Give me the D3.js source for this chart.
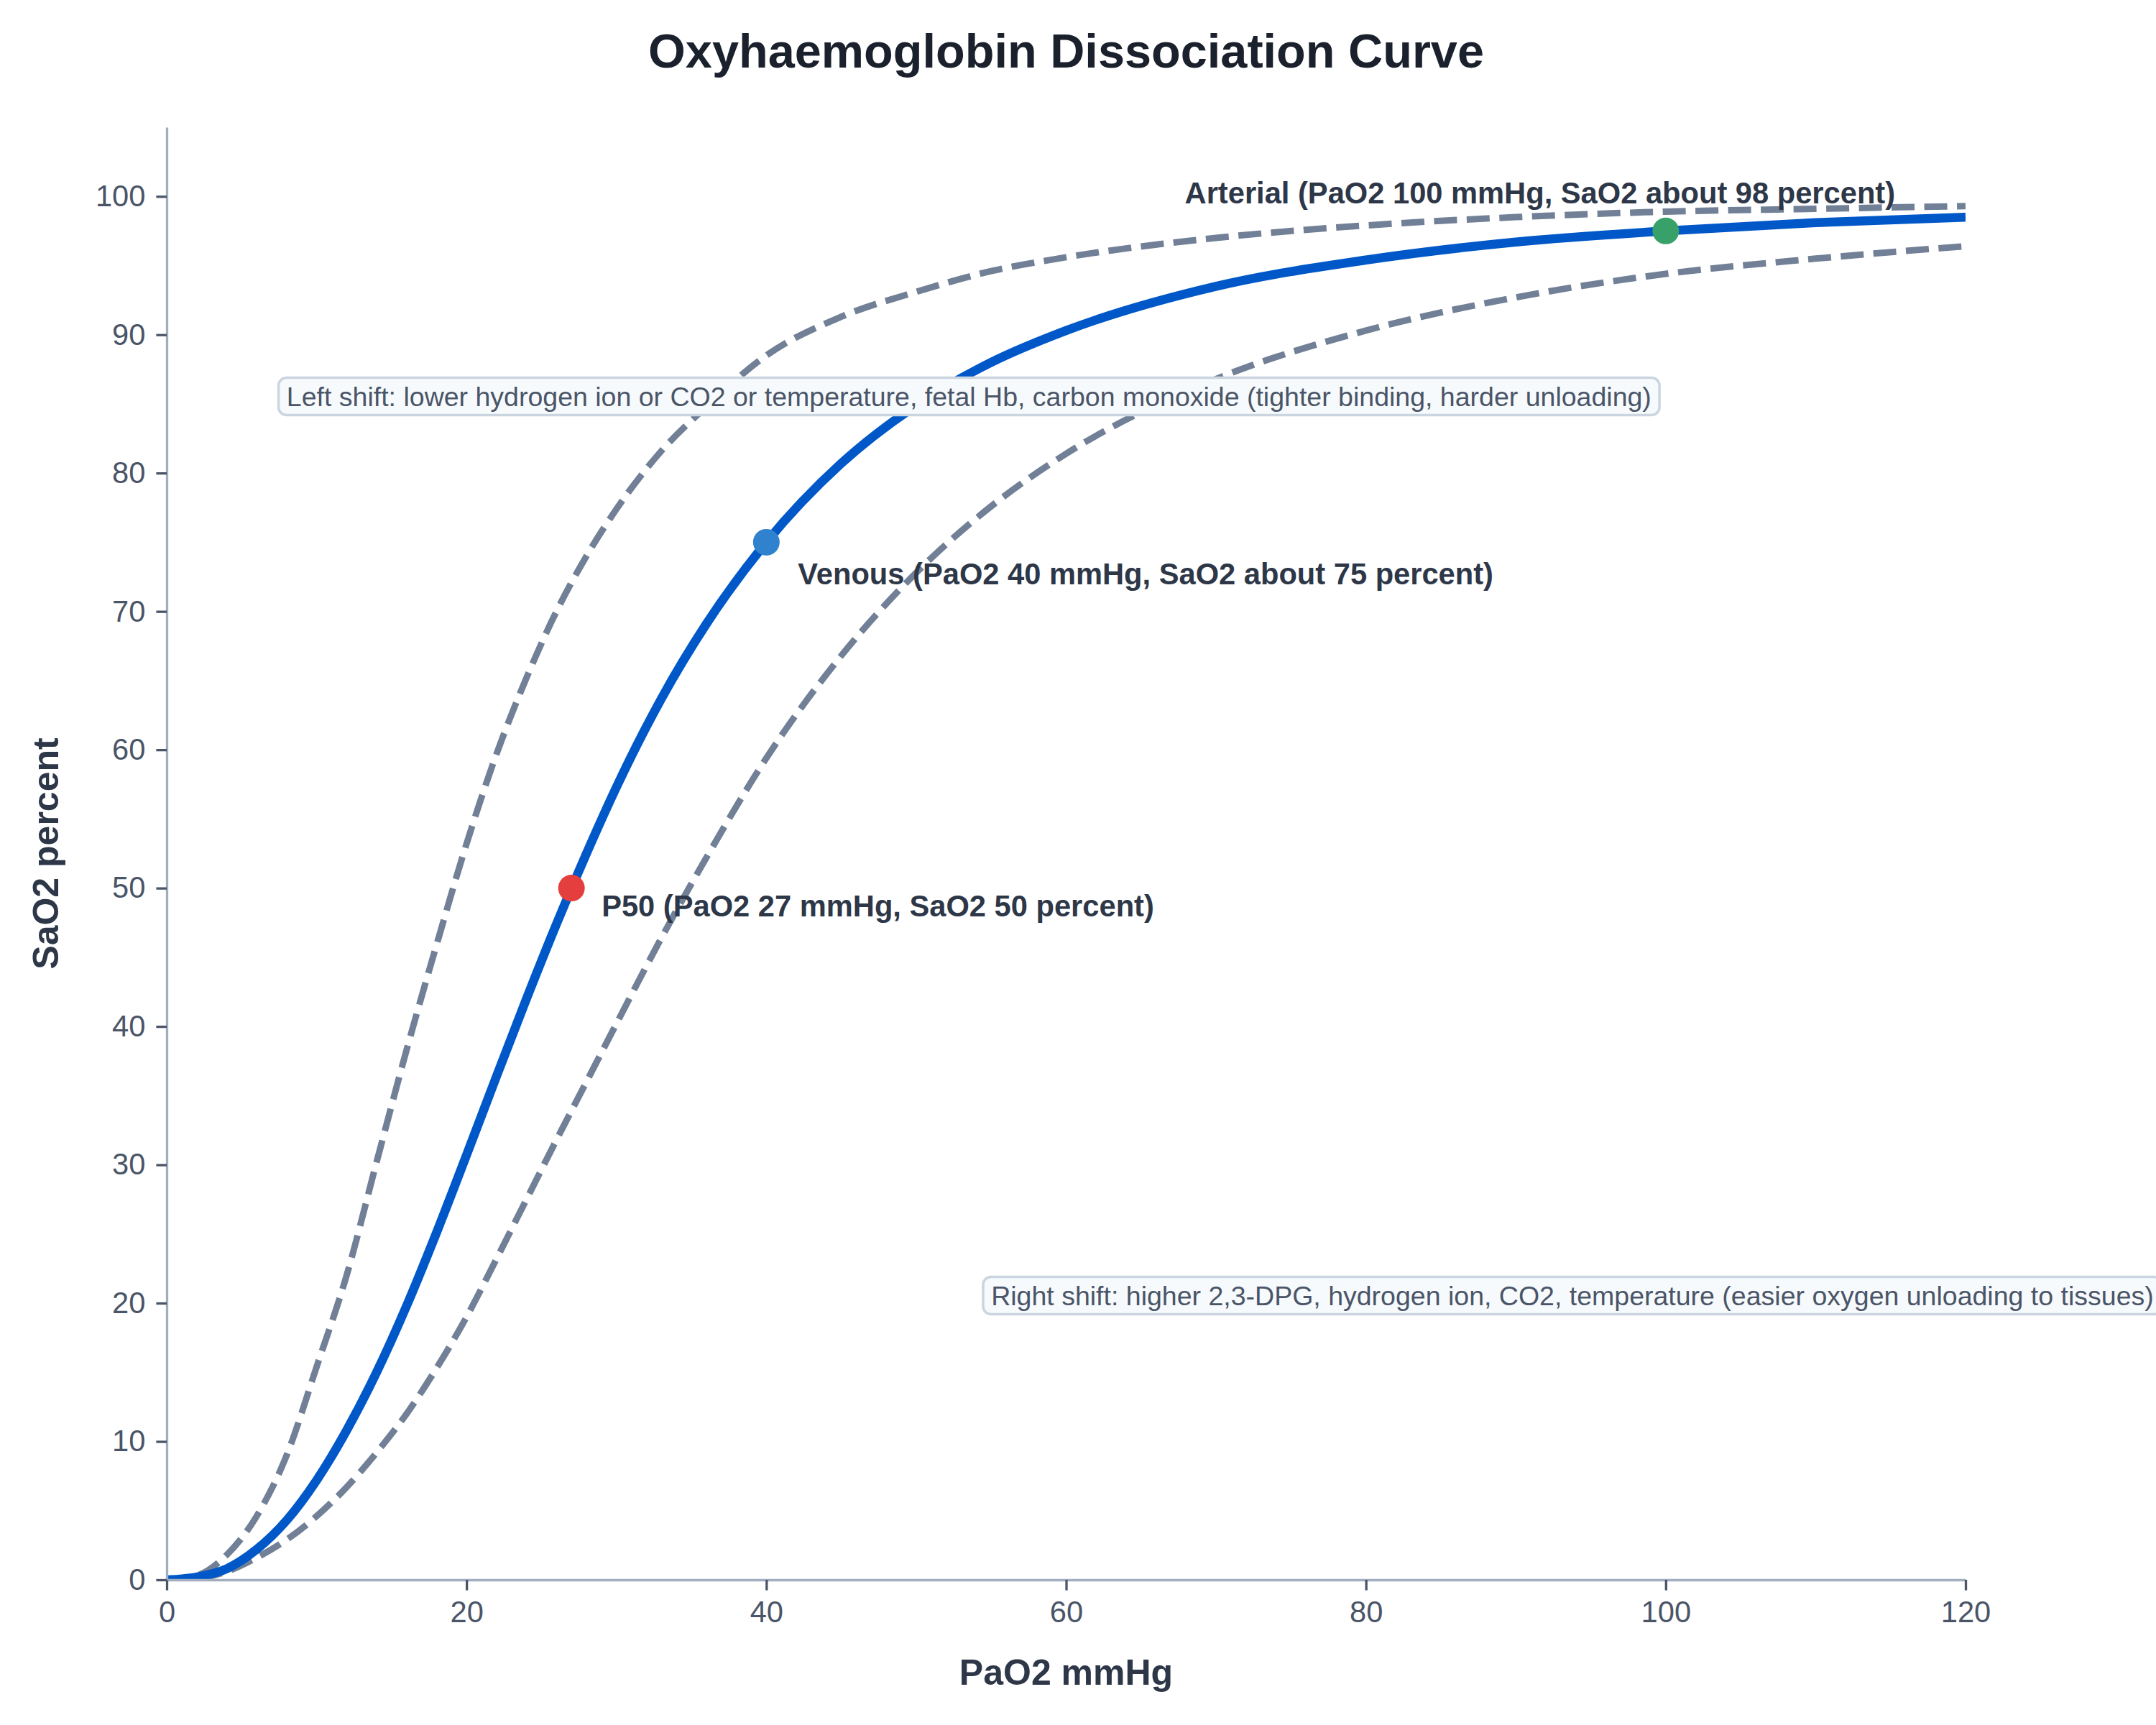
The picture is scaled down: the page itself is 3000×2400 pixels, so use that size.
<!DOCTYPE html>
<html>
<head>
<meta charset="utf-8">
<script src="https://cdn.jsdelivr.net/npm/d3@7"></script>
<style>
  body { margin: 0; background: #fff; }
  svg { display: block; font-family: 'Liberation Sans', Arial, Helvetica, sans-serif; }
</style>
</head>
<body>
<svg class="canvas" width="3000" height="2400"></svg>
<script>
'use strict'

// PaO2 sample points (mmHg)
const pao2 = [0, 2, 4, 6, 8, 10, 12, 14, 16, 18, 20, 22, 24, 26, 28, 30, 33, 36, 40, 45, 50, 55, 60, 70, 80, 90, 100, 110, 120]

// SaO2 percent for each curve
const normalSat = [0, 0.2, 0.8, 2.2, 4.3, 7.2, 10.8, 15.0, 19.8, 25.1, 30.7, 36.4, 42.0, 47.4, 52.5, 57.3, 63.7, 69.1, 75.0, 80.7, 84.9, 88.0, 90.3, 93.5, 95.4, 96.7, 97.5, 98.1, 98.5]
const leftShiftSat = [0, 0.3, 1.8, 4.6, 9.0, 15.4, 22.0, 30.2, 38.3, 45.9, 53.2, 59.7, 65.2, 70.0, 74.0, 77.4, 81.6, 84.8, 88.5, 91.3, 93.1, 94.6, 95.6, 97.0, 97.9, 98.5, 98.9, 99.1, 99.3]
const rightShiftSat = [0, 0.1, 0.6, 1.6, 2.9, 4.6, 6.7, 9.2, 12.0, 15.3, 19.0, 23.2, 27.5, 31.8, 36.0, 40.2, 46.4, 52.2, 59.4, 66.8, 72.8, 77.6, 81.4, 86.8, 90.3, 92.7, 94.4, 95.5, 96.4]

// Marked points
const keyPao2 = [27, 40, 100]
const keySat = [50, 75, 97.5]
const keyLabels = [
  'P50 (PaO2 27 mmHg, SaO2 50 percent)',
  'Venous (PaO2 40 mmHg, SaO2 about 75 percent)',
  'Arterial (PaO2 100 mmHg, SaO2 about 98 percent)',
]
const keyColors = ['#e53e3e', '#3182ce', '#38a169']

// Shift notes and where they sit (data coords)
const shiftNotes = [
  'Left shift: lower hydrogen ion or CO2 or temperature, fetal Hb, carbon monoxide (tighter binding, harder unloading)',
  'Right shift: higher 2,3-DPG, hydrogen ion, CO2, temperature (easier oxygen unloading to tissues)',
]
const shiftNoteX = [8, 55]
const shiftNoteY = [85, 20]

// Tick labels
const xTicks = [0, 20, 40, 60, 80, 100, 120]
const yTicks = [0, 10, 20, 30, 40, 50, 60, 70, 80, 90, 100]

const svg = d3.select('.canvas')
svg.append('rect').attr('width', 3000).attr('height', 2400).attr('fill', '#fff')

const x = d3.scaleLinear().domain([0, 120]).range([232, 2735]),
  y = d3.scaleLinear().domain([0, 105]).range([2198, 177])

// Curves, clipped to the plot area
svg
  .append('clipPath')
  .attr('id', 'plot-clip')
  .append('rect')
  .attr('x', x(0))
  .attr('y', y(105))
  .attr('width', x(120) - x(0))
  .attr('height', y(0) - y(105))

const line = d3
  .line()
  .x(d => x(d[0]))
  .y(d => y(d[1]))
  .curve(d3.curveMonotoneX)

const series = [
  { values: leftShiftSat, dashed: true },
  { values: rightShiftSat, dashed: true },
  { values: normalSat, dashed: false },
]

svg
  .append('g')
  .attr('clip-path', 'url(#plot-clip)')
  .selectAll('path')
  .data(series)
  .join('path')
  .attr('d', s => line(d3.zip(pao2, s.values)))
  .attr('fill', 'none')
  .attr('stroke', s => (s.dashed ? '#718096' : '#0058c8'))
  .attr('stroke-width', s => (s.dashed ? 9 : 12.5))
  .attr('stroke-dasharray', s => (s.dashed ? '32,13.5' : null))

// Axes
const styleAxis = g => {
  g.attr('font-family', null).attr('font-size', 41.67)
  g.select('.domain').attr('stroke', '#a0aec0').attr('stroke-width', 3.33)
  g.selectAll('.tick line').attr('stroke', '#4a5568').attr('stroke-width', 3.3)
  g.selectAll('.tick text').attr('fill', '#4a5568')
}

svg
  .append('g')
  .attr('transform', `translate(0, ${y(0)})`)
  .call(d3.axisBottom(x).tickValues(xTicks).tickSize(14.6).tickSizeOuter(0).tickPadding(15))
  .call(styleAxis)
svg
  .append('g')
  .attr('transform', `translate(${x(0)}, 0)`)
  .call(d3.axisLeft(y).tickValues(yTicks).tickSize(14.6).tickSizeOuter(0).tickPadding(15))
  .call(styleAxis)

// Shift notes in rounded boxes
const notePad = 11.25,
  noteHeight = 52
const notes = svg
  .append('g')
  .selectAll('g')
  .data(shiftNotes)
  .join('g')
notes.append('rect')
notes
  .append('text')
  .attr('x', (d, i) => x(shiftNoteX[i]))
  .attr('y', (d, i) => y(shiftNoteY[i]) - 10.5 + 13.4)
  .attr('font-size', 37.5)
  .attr('fill', '#4a5568')
  .text(d => d)
notes.each(function (d, i) {
  const box = this.querySelector('text').getBBox()
  d3.select(this)
    .select('rect')
    .attr('x', box.x - notePad)
    .attr('y', y(shiftNoteY[i]) - 10.5 - noteHeight / 2)
    .attr('width', box.width + 2 * notePad)
    .attr('height', noteHeight)
    .attr('rx', 11)
    .attr('fill', '#f7fafc')
    .attr('stroke', '#cbd5e0')
    .attr('stroke-width', 3.5)
})

// Marked points and their labels
const labelDx = [42, 44, -175],
  labelDy = [39, 59, -38],
  labelAnchor = ['start', 'start', 'middle']

svg
  .append('g')
  .selectAll('circle')
  .data(keyPao2)
  .join('circle')
  .attr('cx', d => x(d))
  .attr('cy', (d, i) => y(keySat[i]))
  .attr('r', 18.5)
  .attr('fill', (d, i) => keyColors[i])

svg
  .append('g')
  .selectAll('text')
  .data(keyLabels)
  .join('text')
  .attr('x', (d, i) => x(keyPao2[i]) + labelDx[i])
  .attr('y', (d, i) => y(keySat[i]) + labelDy[i])
  .attr('text-anchor', (d, i) => labelAnchor[i])
  .attr('font-size', 41.67)
  .attr('font-weight', 'bold')
  .attr('fill', '#2d3748')
  .text(d => d)

// Titles
svg
  .append('text')
  .attr('x', (x(0) + x(120)) / 2)
  .attr('y', 94)
  .attr('text-anchor', 'middle')
  .attr('font-size', 66.67)
  .attr('font-weight', 'bold')
  .attr('fill', '#1a202c')
  .text('Oxyhaemoglobin Dissociation Curve')
svg
  .append('text')
  .attr('x', (x(0) + x(120)) / 2)
  .attr('y', 2344)
  .attr('text-anchor', 'middle')
  .attr('font-size', 50)
  .attr('font-weight', 'bold')
  .attr('fill', '#2d3748')
  .text('PaO2 mmHg')
svg
  .append('text')
  .attr('transform', `translate(81, ${(y(0) + y(105)) / 2}) rotate(-90)`)
  .attr('text-anchor', 'middle')
  .attr('font-size', 50)
  .attr('font-weight', 'bold')
  .attr('fill', '#2d3748')
  .text('SaO2 percent')
</script>
</body>
</html>
